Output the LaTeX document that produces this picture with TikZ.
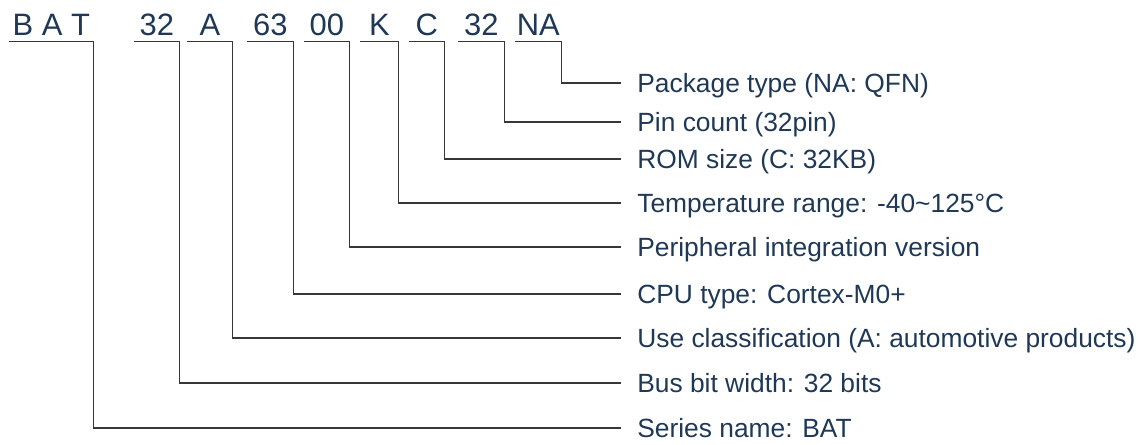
\documentclass[tikz,border=0pt]{standalone}
\usepackage{fontspec}
\setmainfont{Liberation Sans}
\definecolor{partblue}{RGB}{31,56,86}
\definecolor{wiregray}{RGB}{55,55,55}
\begin{document}
\begin{tikzpicture}[
    code/.style={anchor=south west, inner xsep=0pt, inner ysep=0.114cm, text depth=0pt, text=partblue, font=\fontsize{17.6}{20}\selectfont},
    lbl/.style={anchor=west, inner xsep=0.32cm, inner ysep=0pt, text height=0.378cm, text depth=0pt, text=partblue, font=\fontsize{15}{18}\selectfont},
    wire/.style={wiregray, line width=0.6pt}]
                \useasboundingbox (0,0) rectangle (22.96,-8.88);
                \node[code, minimum width=1.68cm] (bat) at (0.18,-0.834) {B A T};
                \node[code, minimum width=0.90cm] (bus) at (2.68,-0.834) {32};
                \node[code, minimum width=0.90cm] (use) at (3.74,-0.834) {A};
                \node[code, minimum width=0.92cm] (cpu) at (4.94,-0.834) {63};
                \node[code, minimum width=0.90cm] (peri) at (6.08,-0.834) {00};
                \node[code, minimum width=0.76cm] (temp) at (7.20,-0.834) {K};
                \node[code, minimum width=0.70cm] (rom) at (8.18,-0.834) {C};
                \node[code, minimum width=0.92cm] (pin) at (9.16,-0.834) {32};
                \node[code, minimum width=0.92cm] (pkg) at (10.30,-0.834) {NA};
                \node[lbl] (pkgtxt) at (12.42,-1.66) {Package type (NA: QFN)};
                \node[lbl] (pintxt) at (12.42,-2.44) {Pin count (32pin)};
                \node[lbl] (romtxt) at (12.42,-3.18) {ROM size (C: 32KB)};
                \node[lbl] (temptxt) at (12.42,-4.06) {Temperature range: -40\textasciitilde125°C};
                \node[lbl] (peritxt) at (12.42,-4.94) {Peripheral integration version};
                \node[lbl] (cputxt) at (12.42,-5.88) {CPU type: Cortex-M0+};
                \node[lbl] (usetxt) at (12.42,-6.76) {Use classification (A: automotive products)};
                \node[lbl] (bustxt) at (12.42,-7.66) {Bus bit width: 32 bits};
                \node[lbl] (battxt) at (12.42,-8.56) {Series name: BAT};
                \draw[wire] (pkg.south west) -- (pkg.south east) |- (pkgtxt.west);
                \draw[wire] (pin.south west) -- (pin.south east) |- (pintxt.west);
                \draw[wire] (rom.south west) -- (rom.south east) |- (romtxt.west);
                \draw[wire] (temp.south west) -- (temp.south east) |- (temptxt.west);
                \draw[wire] (peri.south west) -- (peri.south east) |- (peritxt.west);
                \draw[wire] (cpu.south west) -- (cpu.south east) |- (cputxt.west);
                \draw[wire] (use.south west) -- (use.south east) |- (usetxt.west);
                \draw[wire] (bus.south west) -- (bus.south east) |- (bustxt.west);
                \draw[wire] (bat.south west) -- (bat.south east) |- (battxt.west);
            \end{tikzpicture}
\end{document}
